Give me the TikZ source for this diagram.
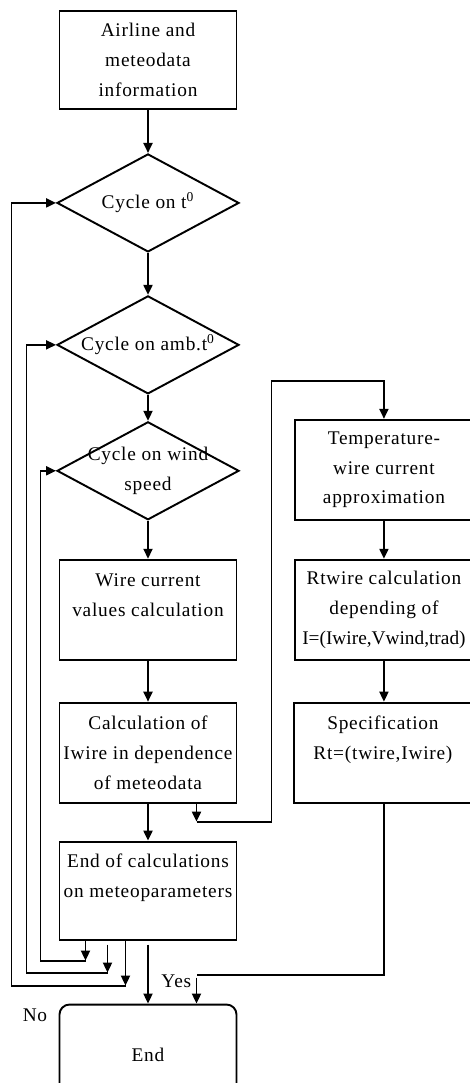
\documentclass[tikz,border=0pt]{standalone}
\usepackage{fontspec}
\setmainfont{Liberation Serif}[LetterSpace=4]
\usepackage{tikz}
\usetikzlibrary{positioning, arrows.meta, shapes.geometric}

\begin{document}
\begin{tikzpicture}[
  box/.style={draw, line width=1.1pt, minimum width=3.54cm, minimum height=2cm, inner sep=0pt, align=center, font=\fontsize{11}{17}\selectfont},
  decision/.style={draw, diamond, line width=1.1pt, minimum width=3.64cm, minimum height=1.96cm, inner sep=0pt},
  dtext/.style={align=center, inner sep=0pt, font=\fontsize{11}{17}\selectfont},
  endbox/.style={box, rounded corners=0.2cm},
  arrow/.style={-{Triangle[length=2mm, width=1.8mm]}, line width=1.1pt},
  line/.style={line width=1.1pt},
  lbl/.style={inner sep=0pt, font=\fontsize{11}{17}\selectfont}
]
\useasboundingbox (0,0) rectangle (9.38,-21.66);

% Main column
\node[box, minimum height=1.96cm] (airline) at (2.96,-1.2) {Airline and\\meteodata\\information};
\node[decision, below=0.86cm of airline, label={[dtext]center:Cycle on t\textsuperscript{0}}] (cyct) {};
\node[decision, below=0.84cm of cyct, label={[dtext]center:Cycle on amb.t\textsuperscript{0}}] (cycamb) {};
\node[decision, below=0.52cm of cycamb, label={[dtext]center:Cycle on wind\\speed}] (cycwind) {};
\node[box, below=0.76cm of cycwind] (wirecur) {Wire current\\values calculation\\~};
\node[box, below=0.82cm of wirecur] (calcI) {Calculation of\\Iwire in dependence\\of meteodata};
\node[box, minimum height=1.96cm, below=0.74cm of calcI] (endcalc) {End of calculations\\on meteoparameters\\~};
\node[endbox, below=1.26cm of endcalc] (endnode) {End};

% Approximation column
\node[box, right=1.14cm of wirecur] (rtwire) {Rtwire calculation\\depending of\\{\addfontfeature{LetterSpace=0}I=(Iwire,Vwind,trad)}};
\node[box, above=0.76cm of rtwire] (tempapp) {Temperature-\\wire current\\approximation};
\node[box, right=1.12cm of calcI] (spec) {Specification\\Rt=(twire,Iwire)\\~};

% Junctions
\coordinate (jc) at ([xshift=0.97cm, yshift=-0.36cm]calcI.south);
\coordinate (jy) at ([xshift=0.97cm, yshift=-0.68cm]endcalc.south);
\coordinate (jw) at ([xshift=-1.25cm, yshift=-0.4cm]endcalc.south);
\coordinate (ja) at ([xshift=-0.81cm, yshift=-0.64cm]endcalc.south);
\coordinate (jt) at ([xshift=-0.45cm, yshift=-0.9cm]endcalc.south);

% Arrows
\draw[arrow] (airline) -- (cyct);
\draw[arrow] (cyct) -- (cycamb);
\draw[arrow] (cycamb) -- (cycwind);
\draw[arrow] (cycwind) -- (wirecur);
\draw[arrow] (wirecur) -- (calcI);
\draw[arrow] (calcI) -- (endcalc);
\draw[arrow] ([yshift=-0.08cm]endcalc.south) -- (endnode);
\draw[arrow] (tempapp.south) -- (tempapp.south |- rtwire.north);
\draw[arrow] (tempapp.south |- rtwire.south) -- (tempapp.south |- spec.north);

% To the approximation column
\draw[arrow] (calcI.south -| jc) -- (jc);
\draw[arrow] (jc) -- ++(1.5,0) |- ([yshift=0.76cm]tempapp.north) -- (tempapp.north);

% Yes / No
\draw[line] (tempapp.south |- spec.south) |- (jy);
\draw[arrow] ([yshift=-0.06cm]jy) -- (jy |- endnode.north);
\node[lbl, anchor=east] (yes) at ([xshift=-0.1cm, yshift=-0.14cm]jy) {Yes};
\node[lbl, anchor=east] (no) at ([xshift=-0.22cm, yshift=-0.24cm]endnode.north west) {No};

% Return loops
\draw[arrow] (endcalc.south -| jw) -- (jw);
\draw[arrow] (jw) -- ++(-0.9,0) |- (cycwind.west);
\draw[arrow] ([yshift=-0.08cm]endcalc.south -| ja) -- (ja);
\draw[arrow] (ja) -- ++(-1.62,0) |- (cycamb.west);
\draw[arrow] (endcalc.south -| jt) -- (jt);
\draw[arrow] (jt) -- ++(-2.28,0) |- (cyct.west);
\end{tikzpicture}
\end{document}
